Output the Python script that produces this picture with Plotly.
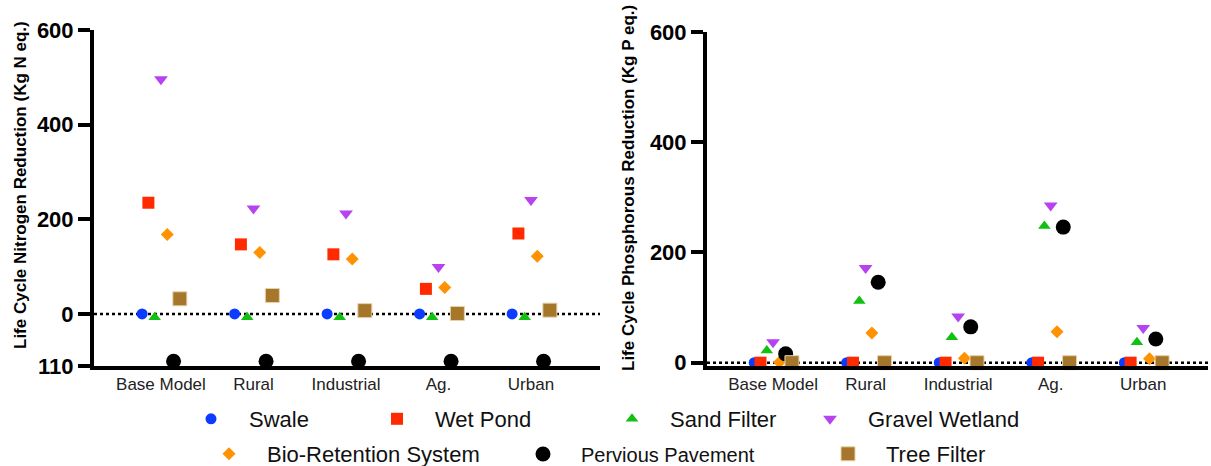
import plotly.graph_objects as go

W, H = 1211, 466

categories = ["Base Model", "Rural", "Industrial", "Ag.", "Urban"]
series_names = ["Swale", "Wet Pond", "Sand Filter", "Gravel Wetland",
                "Bio-Retention System", "Pervious Pavement", "Tree Filter"]

# Life cycle nitrogen reduction (Kg N eq.)
n_swale = [0, 0, 0, 0, 0]
n_wet_pond = [235, 147, 126, 53, 170]
n_sand_filter = [-7, -7, -7, -7, -7]
n_gravel_wetland = [496, 223, 212, 99, 241]
n_bio_retention = [168, 130, 116, 56, 122]
n_pervious_pavement = [-100, -100, -100, -100, -100]
n_tree_filter = [32, 39, 7, 1, 8]

# Life cycle phosphorous reduction (Kg P eq.)
p_swale = [0, 0, 0, 0, 0]
p_wet_pond = [0, 0, 0, 0, 0]
p_sand_filter = [22, 112, 46, 248, 37]
p_gravel_wetland = [37, 172, 84, 285, 63]
p_bio_retention = [1, 54, 8, 56, 7]
p_pervious_pavement = [16, 146, 65, 246, 43]
p_tree_filter = [0, 0, 0, 0, 0]

left_ticks = [-110, 0, 200, 400, 600]
left_ticktext = ["110", "0", "200", "400", "600"]
right_ticks = [0, 200, 400, 600]

nitrogen = [n_swale, n_wet_pond, n_sand_filter, n_gravel_wetland,
            n_bio_retention, n_pervious_pavement, n_tree_filter]
phosphorus = [p_swale, p_wet_pond, p_sand_filter, p_gravel_wetland,
              p_bio_retention, p_pervious_pavement, p_tree_filter]

styles = [
    dict(symbol="circle", size=11, color="#0B3BFF"),
    dict(symbol="square", size=12, color="#FF2A00"),
    dict(symbol="triangle-up", size=11, color="#12C012"),
    dict(symbol="triangle-down", size=12, color="#B642F0"),
    dict(symbol="diamond", size=10, color="#FF9200"),
    dict(symbol="circle", size=15, color="#000000"),
    dict(symbol="square", size=14, color="#A6762A",
         line=dict(color="#E6D3AA", width=1)),
]

legend_pos = [(211, 419), (397, 419), (632, 419), (830, 419),
              (229, 454), (543, 454), (848, 454)]
legend_font = [22, 22, 22, 22, 22, 20, 22]

step = 0.068
fig = go.Figure()
FONT = "Liberation Sans, Arial, Helvetica, sans-serif"

for i, name in enumerate(series_names):
    off = (i - 3) * step
    xs = [j + off for j in range(len(categories))]
    lg = "legend" if i == 0 else f"legend{i+1}"
    fig.add_trace(go.Scatter(
        x=xs, y=nitrogen[i], mode="markers", name=name,
        marker=styles[i], xaxis="x", yaxis="y", cliponaxis=False,
        legend=lg, showlegend=True))
    fig.add_trace(go.Scatter(
        x=xs, y=phosphorus[i], mode="markers", name=name,
        marker=styles[i], xaxis="x2", yaxis="y2", cliponaxis=False,
        legend=lg, showlegend=False))

ITEMW = 66
layout_legends = {}
for i, (px, py) in enumerate(legend_pos):
    key = "legend" if i == 0 else f"legend{i+1}"
    layout_legends[key] = dict(
        x=(px - (ITEMW + 10) / 2) / W, y=1 - py / H,
        xanchor="left", yanchor="middle",
        bgcolor="rgba(0,0,0,0)", borderwidth=0, itemwidth=ITEMW,
        font=dict(family=FONT, size=legend_font[i], color="#111111"),
        tracegroupgap=0)

yl0, yl1 = 1 - 366 / H, 1 - 30 / H
yr0, yr1 = 1 - 366 / H, 1 - 32 / H

axis_common = dict(showgrid=False, zeroline=False, showline=True,
                   linecolor="black", linewidth=4)

fig.update_layout(
    width=W, height=H,
    margin=dict(l=0, r=0, t=0, b=0, autoexpand=False),
    paper_bgcolor="white", plot_bgcolor="white",
    xaxis=dict(domain=[94 / W, 600 / W], range=[-0.724, 4.746],
               tickvals=list(range(len(categories))), ticktext=categories,
               ticks="", anchor="y", automargin=False,
               tickfont=dict(family=FONT, size=17, color="#222222"),
               **axis_common),
    yaxis=dict(domain=[yl0, yl1], range=[-110, 600], tickvals=left_ticks,
               ticktext=left_ticktext, ticks="outside", ticklen=12,
               tickwidth=4, tickcolor="black", anchor="x", automargin=False,
               tickfont=dict(family=FONT, size=22, color="black",
                             weight="bold"),
               **axis_common),
    xaxis2=dict(domain=[707 / W, 1208 / W], range=[-0.714, 4.70],
                tickvals=list(range(len(categories))), ticktext=categories,
                ticks="", anchor="y2", automargin=False,
                tickfont=dict(family=FONT, size=17, color="#222222"),
                **axis_common),
    yaxis2=dict(domain=[yr0, yr1], range=[-6, 600], tickvals=right_ticks,
                ticks="outside", ticklen=12, tickwidth=4, tickcolor="black",
                anchor="x2", automargin=False,
                tickfont=dict(family=FONT, size=22, color="black",
                              weight="bold"),
                **axis_common),
    showlegend=True,
    **layout_legends,
)

for xr, yr in (("x", "y"), ("x2", "y2")):
    fig.add_shape(type="line", xref=f"{xr} domain", yref=yr,
                  x0=0, x1=1, y0=0, y1=0, layer="below",
                  line=dict(color="black", width=2.5, dash="dot"))

fig.add_annotation(text="Life Cycle Nitrogen Reduction (Kg N eq.)",
                   xref="paper", yref="paper", x=21 / W, y=1 - 185 / H,
                   textangle=-90, showarrow=False, xanchor="center",
                   yanchor="middle",
                   font=dict(family=FONT, size=17, color="black",
                             weight="bold"))
fig.add_annotation(text="Life Cycle Phosphorous Reduction (Kg P eq.)",
                   xref="paper", yref="paper", x=629 / W, y=1 - 188 / H,
                   textangle=-90, showarrow=False, xanchor="center",
                   yanchor="middle",
                   font=dict(family=FONT, size=17, color="black",
                             weight="bold"))

fig.write_html("out.html")
